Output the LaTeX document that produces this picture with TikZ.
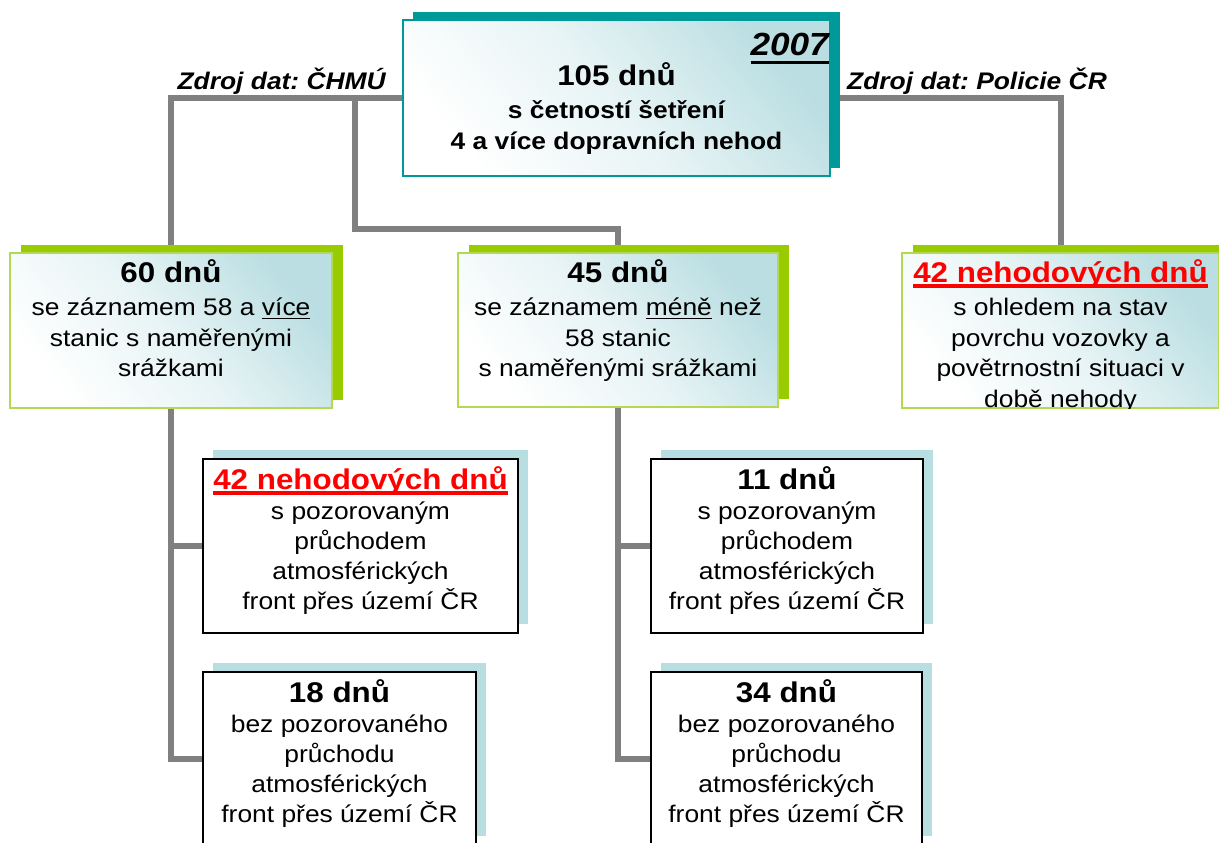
\documentclass[tikz,border=0pt]{standalone}
\usepackage{fontspec}
\setmainfont{Liberation Sans}[FakeStretch=1.1]
\usetikzlibrary{positioning,shadows}
\pgfdeclarelayer{background}
\pgfsetlayers{background,main}

\definecolor{tyrkys}{RGB}{0,153,153}
\definecolor{zelena}{RGB}{153,204,0}
\definecolor{zelenaokraj}{RGB}{180,216,80}
\definecolor{modrastin}{RGB}{183,222,224}
\definecolor{svetla}{RGB}{186,222,226}
\definecolor{seda}{RGB}{128,128,128}

% #1 thickness, #2 depth below baseline, #3 text
\newcommand{\podtrh}[3]{\setbox0\hbox{#3}\rlap{\rule[-#2]{\wd0}{#1}}\box0\relax}
\newcommand{\titul}[1]{\rule{0pt}{27pt}{\fontsize{28.5}{30}\selectfont\bfseries #1}}
\newcommand{\nehodove}{\textcolor{red}{\titul{\podtrh{4pt}{6pt}{42 nehodových dnů}}}}

\begin{document}
\frenchspacing
\begin{tikzpicture}[x=1pt,y=-1pt,
    box/.style={rectangle, inner sep=0pt},
    hlavni/.style={box, draw=tyrkys, line width=2pt,
        top color=svetla, bottom color=white, middle color=svetla!35, shading angle=-50,
        drop shadow={shadow xshift=10pt, shadow yshift=8pt, fill=tyrkys, opacity=1}},
    vetev/.style={box, draw=zelenaokraj, line width=1.5pt,
        top color=svetla, bottom color=white, middle color=svetla!35, shading angle=-50,
        drop shadow={shadow xshift=11pt, shadow yshift=8pt, fill=zelena, opacity=1}},
    dole/.style={box, draw=black, line width=1.5pt, fill=white,
        drop shadow={shadow xshift=10pt, shadow yshift=9pt, fill=modrastin, opacity=1}},
    boxtext/.style={inner sep=0pt, align=center, font=\fontsize{24}{30}\selectfont},
    zdroj/.style={inner sep=0pt, font=\fontsize{24}{30}\selectfont\bfseries\itshape},
    spoj/.style={draw=seda, line width=6pt}]

    \useasboundingbox (0,0) rectangle (1219,843);
    \clip (0,0) rectangle (1219,843);

    % top box
    \node[hlavni, minimum width=427pt, minimum height=156pt] (top) at (616.5,98) {};
    \node[boxtext, font=\fontsize{24}{31}\selectfont\bfseries, below=39pt of top.north] (toptext)
        {\titul{105 dnů}\\[2pt] s četností šetření\\ 4 a více dopravních nehod};
    \node[inner sep=0pt, anchor=base east, font=\fontsize{32}{32}\selectfont\bfseries\itshape] (rok)
        at (829,56) {\podtrh{3pt}{8pt}{2007}};

    \node[zdroj, anchor=base east] (zdrojchmu) at (386,90) {Zdroj dat: ČHMÚ};
    \node[zdroj, anchor=base west] (zdrojpolicie) at (847,90) {Zdroj dat: Policie ČR};

    % second row
    \node[vetev, minimum width=322pt, minimum height=155pt] (chmu) at (171,330.5) {};
    \node[boxtext, font=\fontsize{24}{30.5}\selectfont, below=3pt of chmu.north] (chmutext)
        {\titul{60 dnů}\\[3pt] se záznamem 58 a \podtrh{1.5pt}{3.5pt}{více}\\ stanic s naměřenými\\ srážkami};

    \node[vetev, minimum width=320pt, minimum height=154pt] (mene) at (618,330) {};
    \node[boxtext, font=\fontsize{24}{30.5}\selectfont, below=3pt of mene.north] (menetext)
        {\titul{45 dnů}\\[3pt] se záznamem \podtrh{1.5pt}{3.5pt}{méně} než\\ 58 stanic\\ s naměřenými srážkami};

    \node[vetev, minimum width=317pt, minimum height=155pt] (policie) at (1060.5,330.5) {};
    \begin{scope}
        \clip (policie.north west) rectangle (policie.south east);
        \node[boxtext, font=\fontsize{24}{30.5}\selectfont, below=3pt of policie.north] (policietext)
            {\nehodove\\[3pt] s ohledem na stav\\ povrchu vozovky a\\ povětrnostní situaci v\\ době nehody};
    \end{scope}

    % third row
    \node[dole, minimum width=315pt, minimum height=174pt] (frontA) at (360.5,546) {};
    \node[boxtext, below=4pt of frontA.north] (frontAtext)
        {\nehodove\\ s pozorovaným\\ průchodem\\ atmosférických\\ front přes území ČR};

    \node[dole, minimum width=272pt, minimum height=174pt] (frontB) at (787,546) {};
    \node[boxtext, below=4pt of frontB.north] (frontBtext)
        {\titul{11 dnů}\\ s pozorovaným\\ průchodem\\ atmosférických\\ front přes území ČR};

    % fourth row
    \node[dole, minimum width=273pt, minimum height=173pt] (bezA) at (339.5,758.5) {};
    \node[boxtext, below=4pt of bezA.north] (bezAtext)
        {\titul{18 dnů}\\ bez pozorovaného\\ průchodu\\ atmosférických\\ front přes území ČR};

    \node[dole, minimum width=271pt, minimum height=173pt] (bezB) at (786.5,758.5) {};
    \node[boxtext, below=4pt of bezB.north] (bezBtext)
        {\titul{34 dnů}\\ bez pozorovaného\\ průchodu\\ atmosférických\\ front přes území ČR};

    % connectors
    \coordinate (odbocka) at (355,98);
    \coordinate (ohyb) at (355,229);
    \begin{pgfonlayer}{background}
        \draw[spoj] (top.west) -| (chmu.north);
        \draw[spoj] (odbocka) -- (ohyb) -| (mene.north);
        \draw[spoj] (top.east) -| (policie.north);
        \draw[spoj] (chmu.south) |- (frontA.west);
        \draw[spoj] (chmu.south) |- (bezA.west);
        \draw[spoj] (mene.south) |- (frontB.west);
        \draw[spoj] (mene.south) |- (bezB.west);
    \end{pgfonlayer}
\end{tikzpicture}
\end{document}
